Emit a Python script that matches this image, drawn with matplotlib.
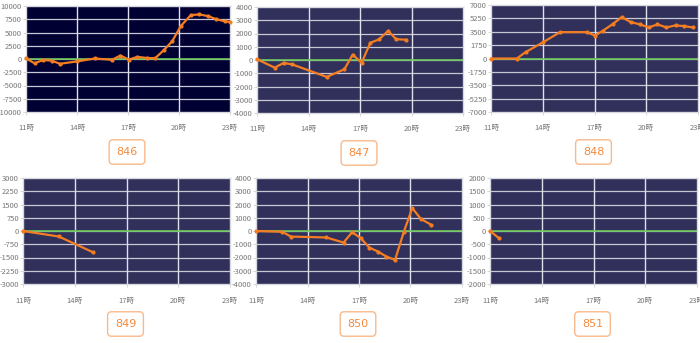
import matplotlib
matplotlib.use("Agg")
import matplotlib.pyplot as plt

plt.rcParams['font.family'] = ['Noto Sans CJK JP', 'DejaVu Sans']

# chart values
names = ["846", "847", "848", "849", "850", "851"]

t_846 = [11.0, 11.5, 12.0, 12.5, 13.0, 14.0, 15.05, 16.05, 16.55, 17.05, 17.55, 18.1, 18.6,
         19.1, 19.6, 20.1, 20.7, 21.2, 21.7, 22.2, 22.7, 23.0]
v_846 = [100, -800, -200, -300, -900, -450, 100, -150, 650, -100, 400, 200, 150,
         1650, 3350, 6200, 8300, 8400, 8100, 7500, 7100, 7000]

t_847 = [11.0, 12.03, 12.55, 13.03, 15.06, 16.09, 16.57, 17.1, 17.6, 18.1, 18.64, 19.1, 19.7]
v_847 = [50, -575, -225, -325, -1275, -700, 400, -200, 1300, 1550, 2200, 1575, 1525]

t_848 = [11.0, 12.5, 13.0, 14.0, 15.0, 16.55, 17.03, 17.5, 18.05, 18.57, 19.1, 19.63,
         20.15, 20.65, 21.17, 21.7, 22.17, 22.7]
v_848 = [0, 0, 830, 2100, 3450, 3450, 3000, 3650, 4500, 5400, 4770, 4460,
         4070, 4460, 4070, 4330, 4240, 4070]

t_849 = [11.0, 13.07, 15.05]
v_849 = [0, -310, -1200]

t_850 = [11.0, 12.53, 13.03, 15.1, 16.1, 16.6, 17.1, 17.6, 18.1, 18.6, 19.1, 19.6, 20.1, 20.6, 21.2]
v_850 = [0, -60, -420, -490, -870, -90, -540, -1250, -1550, -1930, -2180, -110, 1730, 920, 470]

t_851 = [11.0, 11.52]
v_851 = [0, -270]

times = [t_846, t_847, t_848, t_849, t_850, t_851]
values = [v_846, v_847, v_848, v_849, v_850, v_851]
y_limits = [10000, 4000, 7000, 3000, 4000, 2000]
y_steps = [2500, 1000, 1750, 750, 1000, 500]

x_ticks = [11, 14, 17, 20, 23]
x_labels = ["11時", "14時", "17時", "20時", "23時"]

# axes boxes in pixels: x0, y0, x1, y1 (top-left origin)
boxes = [(26, 6, 230, 112), (257, 7, 463, 113), (491, 5, 698, 112),
         (23, 178, 230, 284), (256, 178, 462, 284), (490, 178, 697, 284)]
W, H = 700, 343

fig = plt.figure(figsize=(7, 3.43), dpi=100)

for i in range(6):
    x0, y0, x1, y1 = boxes[i]
    ax = fig.add_axes([x0 / W, 1 - y1 / H, (x1 - x0) / W, (y1 - y0) / H])
    bg = '#000033' if i == 0 else '#30305a'
    ax.set_facecolor(bg)
    lim = y_limits[i]
    step = y_steps[i]
    yt = [k * step for k in range(-4, 5)]
    ax.set_ylim(-lim, lim)
    ax.set_xlim(11, 23)
    ax.set_yticks(yt)
    ax.set_yticklabels([str(v) for v in yt])
    ax.set_xticks(x_ticks)
    ax.set_xticklabels(x_labels)
    for y in yt[1:-1]:
        ax.axhline(y, color='#c9c9d6', lw=0.9, zorder=1)
    for x in x_ticks[1:-1]:
        ax.axvline(x, color='#e0e0ea', lw=1.0, zorder=1)
    ax.axhline(0, color='#6cc65a', lw=1.2, zorder=2)
    ax.plot(times[i], values[i], color='#f47d22', lw=1.6, marker='o', ms=2.0, zorder=3,
            clip_on=False)
    for s in ax.spines.values():
        s.set_color('#d8d8e0')
        s.set_linewidth(1.0)
    ax.tick_params(axis='both', labelsize=5.5, colors='#d0d0d0', labelcolor='#777777',
                   length=2, width=0.6)
    ax.tick_params(axis='x', pad=7)
    ax.tick_params(axis='y', pad=1)

    cx = (x0 + x1) / 2 - 1
    cy = y1 + 40
    fig.text(cx / W, 1 - cy / H, names[i], ha='center', va='center', fontsize=8,
             color='#f5893c', family='DejaVu Sans',
             bbox=dict(boxstyle='round,pad=0.65,rounding_size=0.35', fc='white',
                       ec='#f9b98a', lw=1.0))

fig.savefig('out.png', dpi=100)
